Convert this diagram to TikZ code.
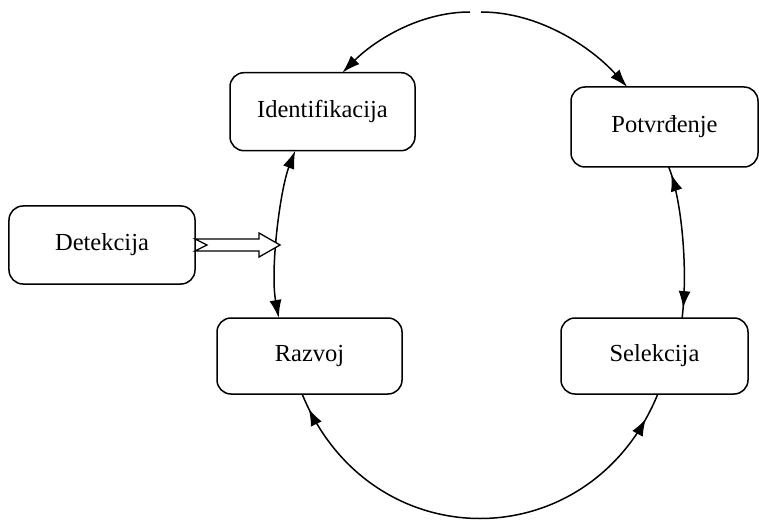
\documentclass[tikz,border=0pt]{standalone}
\usepackage{fontspec}
\setmainfont{Liberation Serif}
\usetikzlibrary{arrows.meta,decorations.markings}
\begin{document}
\begin{tikzpicture}[x=1bp,y=-1bp,
  box/.style={draw, line width=1.5bp, rounded corners=14bp, inner sep=0pt, outer sep=0pt,
    font=\fontsize{24.5bp}{29bp}\selectfont},
  arc/.style={draw, line width=1.5bp},
  tip/.style={-{Latex[length=18bp,width=12bp]}},
  bothtips/.style={{Latex[length=18bp,width=12bp]}-{Latex[length=18bp,width=12bp]}},
  hollow/.style={draw, line width=1.3bp, fill=white, line join=miter},
  markends/.style 2 args={postaction={decorate}, decoration={markings,
    mark=at position #1 with {\arrowreversed{Latex[length=17bp,width=12bp]}},
    mark=at position #2 with {\arrow{Latex[length=17bp,width=12bp]}}}}
]
\useasboundingbox (0,0) rectangle (759,522);

\node[box, minimum width=185bp, minimum height=78bp] (ident) at (322.5,111.7) {Identifikacija};
\node[box, minimum width=187bp, minimum height=80bp] (potv) at (664.5,127) {Potvrđenje};
\node[box, minimum width=186bp, minimum height=78bp] (detek) at (102,245) {Detekcija};
\node[box, minimum width=185bp, minimum height=76bp] (razvoj) at (309.5,356) {Razvoj};
\node[box, minimum width=187bp, minimum height=76bp] (selek) at (654.5,356) {Selekcija};

% top arc (two halves with a gap at the top)
\coordinate (topL) at (470,12);
\coordinate (topR) at (481,12);
\draw[arc, tip] (topL) .. controls (420,12) and (375,40) .. (ident.63);
\draw[arc, tip] (topR) .. controls (540,12) and (592,48) .. (potv.133);

% left arc
\draw[arc, bothtips] (ident.235) .. controls (280,190) and (270,270) .. (razvoj.129);

% right arc
\draw[arc, markends={0.05}{0.935}] (potv.276) .. controls (682,200) and (688,270) .. (selek.54);

% bottom arc
\draw[arc, markends={0.035}{0.94}] (razvoj.259) .. controls (370,560) and (590,560) .. (selek.275);

% hollow arrow from Detekcija
\draw[hollow] (detek.east) ++(0,-6) -- ++(64,0) -- ++(0,-6) -- ++(21,12) -- ++(-21,12)
  -- ++(0,-6) -- ++(-64,0) -- ++(12,-6) -- cycle;
\end{tikzpicture}
\end{document}
